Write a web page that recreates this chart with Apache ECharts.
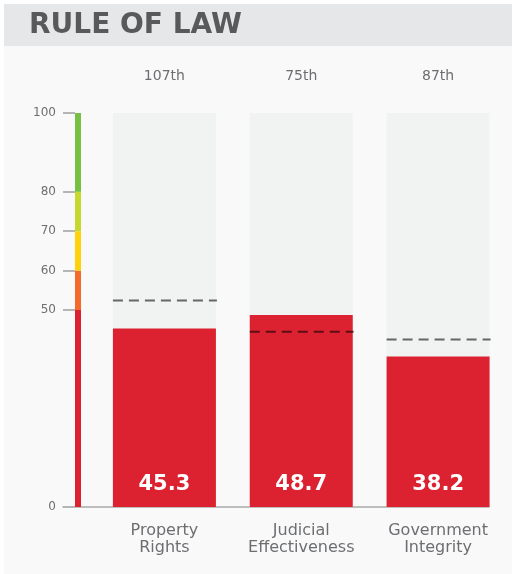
<!DOCTYPE html>
<html>
<head>
<meta charset="utf-8">
<script src="https://cdn.jsdelivr.net/npm/echarts@6/dist/echarts.min.js"></script>
<style>
  html, body { margin: 0; padding: 0; background: #ffffff; }
  #chart { width: 512px; height: 574px; }
</style>
</head>
<body>
<div id="chart"></div>
<script>
// Rule of law component scores
const categories = ['Property\nRights', 'Judicial\nEffectiveness', 'Government\nIntegrity'];
const scores = [45.3, 48.7, 38.2];
const ranks = ['107th', '75th', '87th'];
const averages = [52.4, 44.5, 42.5];

// Colour scale on the left: band sizes (bottom to top) and their colours
const scaleBands = [50, 10, 10, 10, 20];
const scaleColors = ['#dc2130', '#f26a2c', '#fdd20a', '#c4d82e', '#76c044'];
const yTicks = [0, 50, 60, 70, 80, 100];

const FONT = 'DejaVu Sans';
const BAR_W = 103;
const TEXT_GRAY = '#6d6e71';

const chart = echarts.init(document.getElementById('chart'), null, { renderer: 'canvas' });

const scaleSeries = scaleBands.map((v, i) => ({
  type: 'bar',
  xAxisIndex: 1,
  yAxisIndex: 1,
  stack: 'scale',
  barWidth: '100%',
  data: [v],
  itemStyle: { color: scaleColors[i] },
  silent: true
}));

chart.setOption({
  animation: false,
  backgroundColor: '#ffffff',
  graphic: [
    { type: 'rect', z: -10, shape: { x: 4, y: 4, width: 508, height: 570 }, style: { fill: '#f9f9f9' } },
    { type: 'rect', z: -9, shape: { x: 4, y: 4, width: 508, height: 42 }, style: { fill: '#e6e7e8' } },
    {
      type: 'text', z: -8, x: 29, y: 26,
      style: {
        text: 'RULE OF LAW', fill: '#58595b',
        font: '700 28px "' + FONT + '"',
        textVerticalAlign: 'middle'
      }
    }
  ],
  grid: [
    { left: 63, right: 23, top: 113, bottom: 67 },
    { left: 75, width: 6, top: 113, bottom: 67 },
    { left: 96, right: 5.5, top: 113, bottom: 67 }
  ],
  xAxis: [
    {
      gridIndex: 0, type: 'category', data: [''],
      axisLine: { show: true, lineStyle: { color: '#ababab', width: 1.5 } },
      axisTick: { show: false }, axisLabel: { show: false }
    },
    { gridIndex: 1, type: 'category', data: ['scale'], show: false },
    {
      gridIndex: 2, type: 'category', data: categories,
      axisLine: { show: false }, axisTick: { show: false },
      axisLabel: {
        interval: 0, hideOverlap: false,
        margin: 15, color: TEXT_GRAY, fontFamily: FONT, fontSize: 16, lineHeight: 17
      }
    },
    {
      gridIndex: 2, type: 'category', data: ranks, position: 'top',
      axisLine: { show: false }, axisTick: { show: false },
      axisLabel: { interval: 0, margin: 30, color: TEXT_GRAY, fontFamily: FONT, fontSize: 14 }
    }
  ],
  yAxis: [
    {
      gridIndex: 0, type: 'value', min: 0, max: 100,
      axisLine: { show: false },
      splitLine: { show: false },
      axisTick: {
        show: true, inside: true, length: 12, customValues: yTicks,
        lineStyle: { color: '#b5b5b5', width: 2 }
      },
      axisLabel: {
        customValues: yTicks, margin: 7, color: TEXT_GRAY, fontFamily: FONT, fontSize: 12
      }
    },
    { gridIndex: 1, type: 'value', min: 0, max: 100, show: false },
    { gridIndex: 2, type: 'value', min: 0, max: 100, show: false }
  ],
  series: [
    ...scaleSeries,
    {
      type: 'bar',
      xAxisIndex: 2,
      yAxisIndex: 2,
      data: scores,
      barWidth: BAR_W,
      showBackground: true,
      backgroundStyle: { color: '#f1f3f2' },
      itemStyle: { color: '#dc2130' },
      label: {
        show: true,
        position: 'insideBottom',
        distance: 12,
        color: '#ffffff',
        fontFamily: FONT,
        fontWeight: 'bold',
        fontSize: 21,
        formatter: p => p.value.toFixed(1)
      },
      z: 2
    },
    {
      // dashed average marker across each bar
      type: 'custom',
      xAxisIndex: 2,
      yAxisIndex: 2,
      z: 5,
      data: averages.map((v, i) => [i, v]),
      renderItem: (params, api) => {
        const c = api.coord([api.value(0), api.value(1)]);
        const half = BAR_W / 2;
        return {
          type: 'line',
          shape: { x1: c[0] - half, y1: c[1], x2: c[0] + half + 1, y2: c[1] },
          style: { stroke: 'rgba(0,0,0,0.58)', lineWidth: 2, lineDash: [10, 6] }
        };
      }
    }
  ]
});
</script>
</body>
</html>
